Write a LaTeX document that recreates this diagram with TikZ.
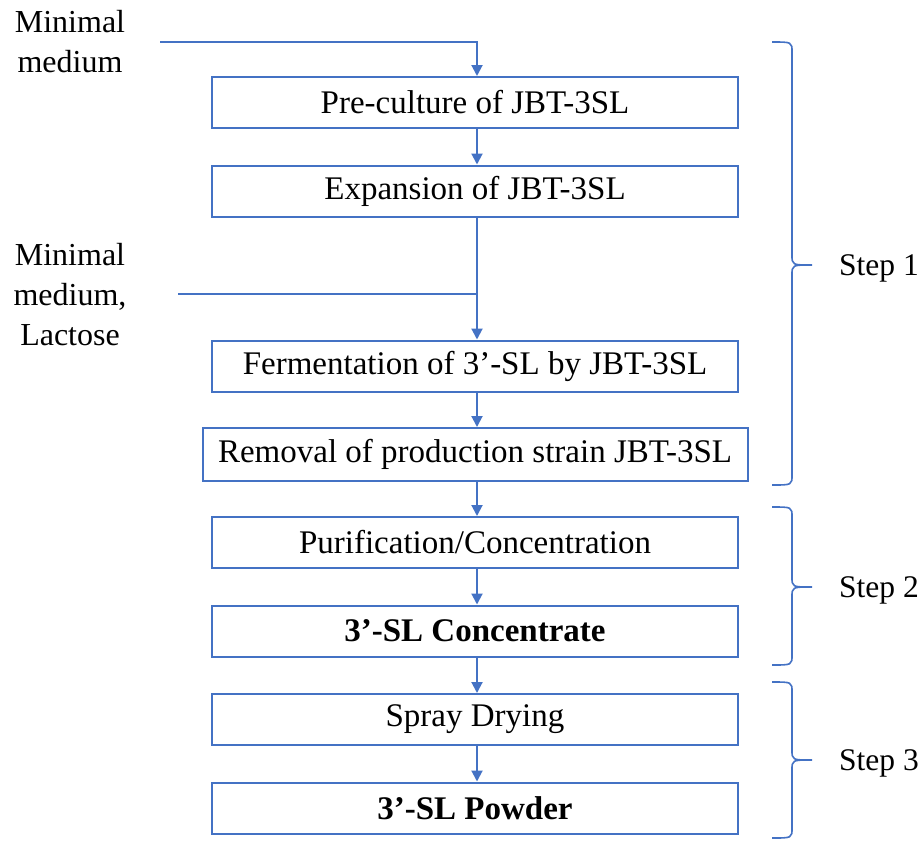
\documentclass[tikz,border=0pt]{standalone}
\usepackage{fontspec}
\setmainfont{Liberation Serif}
\usetikzlibrary{arrows.meta}
\definecolor{ob}{RGB}{68,114,196}
\begin{document}
\begin{tikzpicture}[x=1pt,y=-1pt,
 box/.style={draw=ob, line width=2pt, minimum height=51pt, minimum width=526pt, inner sep=0pt, font=\fontsize{33}{38}\selectfont},
 conn/.style={draw=ob, line width=2pt, -{Triangle[length=11pt,width=11pt]}},
 plain/.style={draw=ob, line width=2pt},
 brc/.style={draw=ob, line width=1.6pt},
 lbl/.style={font=\fontsize{32}{40}\selectfont, align=center, inner sep=0pt},
 steplbl/.style={font=\fontsize{31.5}{36}\selectfont, anchor=west, inner sep=0pt}]
\useasboundingbox (0,0) rectangle (924,844);

\node[box] (b1) at (475,102.5) {Pre-culture of JBT-3SL};
\node[box] (b2) at (475,191) {Expansion of JBT-3SL};
\node[box] (b3) at (475,366) {Fermentation of 3’-SL by JBT-3SL};
\node[box, minimum width=545pt, minimum height=53pt] (b4) at (475,454.5) {Removal of production strain JBT-3SL};
\node[box] (b5) at (475,542.5) {Purification/Concentration};
\node[box] (b6) at (475,631) {\textbf{3’-SL Concentrate}};
\node[box] (b7) at (475,719.5) {Spray Drying};
\node[box] (b8) at (475,808) {\textbf{3’-SL Powder}};

\node[lbl] (t1) at (70,42) {Minimal\\medium};
\node[lbl] (t2) at (70,295) {Minimal\\medium,\\Lactose};

\coordinate (m1) at (160,42);
\coordinate (m2) at (178,294);
\draw[conn] (m1) -| ([xshift=2pt]b1.north);
\draw[conn] ([xshift=2pt]b1.south) -- ([xshift=2pt]b2.north);
\draw[conn] ([xshift=2pt]b2.south) -- ([xshift=2pt]b3.north);
\draw[plain] (m2) -- ([xshift=2pt]b2.south |- m2);
\draw[conn] ([xshift=2pt]b3.south) -- ([xshift=2pt]b4.north);
\draw[conn] ([xshift=2pt]b4.south) -- ([xshift=2pt]b5.north);
\draw[conn] ([xshift=2pt]b5.south) -- ([xshift=2pt]b6.north);
\draw[conn] ([xshift=2pt]b6.south) -- ([xshift=2pt]b7.north);
\draw[conn] ([xshift=2pt]b7.south) -- ([xshift=2pt]b8.north);

% braces
\draw[brc] (772,42) .. controls (792,42) .. (792,52) -- (792,255) .. controls (792,265) .. (812,265)
           .. controls (792,265) .. (792,275) -- (792,475) .. controls (792,485) .. (772,485);
\draw[brc] (772,507) .. controls (792,507) .. (792,517) -- (792,577) .. controls (792,587) .. (812,587)
           .. controls (792,587) .. (792,597) -- (792,655) .. controls (792,665) .. (772,665);
\draw[brc] (772,682) .. controls (792,682) .. (792,692) -- (792,750) .. controls (792,760) .. (812,760)
           .. controls (792,760) .. (792,770) -- (792,828) .. controls (792,838) .. (772,838);

\node[steplbl] (s1) at (839,268) {Step 1};
\node[steplbl] (s2) at (839,590) {Step 2};
\node[steplbl] (s3) at (839,763) {Step 3};
\end{tikzpicture}
\end{document}
